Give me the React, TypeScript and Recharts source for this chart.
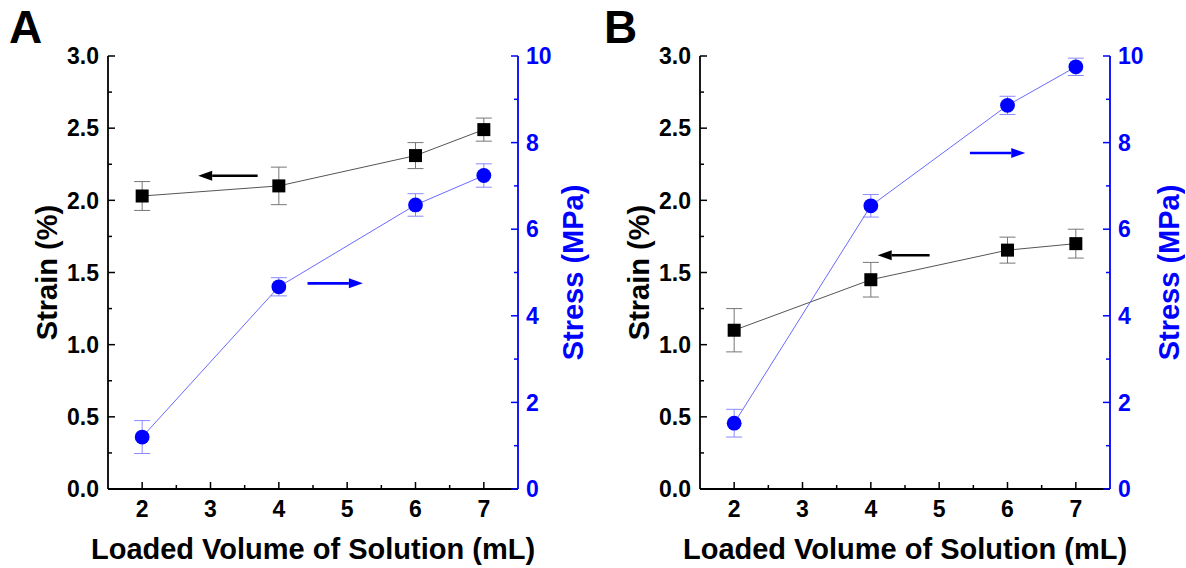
import React from 'react';
import { ComposedChart, Line, XAxis, YAxis, ErrorBar, ReferenceLine, Label } from 'recharts';

const FONT = '"Liberation Sans", Arial, Helvetica, sans-serif';
const BLUE = '#0000ff';

// ---- data ----
const volumes = [2, 4, 6, 7];
const strainA = [2.03, 2.1, 2.31, 2.49];
const strainErrA = [0.1, 0.13, 0.09, 0.08];
const stressA = [1.2, 4.67, 6.56, 7.24];
const stressErrA = [0.38, 0.21, 0.26, 0.27];
const strainB = [1.1, 1.45, 1.655, 1.7];
const strainErrB = [0.15, 0.12, 0.09, 0.1];
const stressB = [1.52, 6.54, 8.86, 9.75];
const stressErrB = [0.32, 0.26, 0.21, 0.2];

// ---- ticks ----
const xTicks = [2, 2.5, 3, 3.5, 4, 4.5, 5, 5.5, 6, 6.5, 7];
const xLabelTicks = [2, 3, 4, 5, 6, 7];
const strainTicks = [0, 0.25, 0.5, 0.75, 1, 1.25, 1.5, 1.75, 2, 2.25, 2.5, 2.75, 3];
const strainLabelTicks = [0, 0.5, 1, 1.5, 2, 2.5, 3];
const stressTicks = [0, 1, 2, 3, 4, 5, 6, 7, 8, 9, 10];
const stressLabelTicks = [0, 2, 4, 6, 8, 10];

// ---- annotation arrows (data units) ----
const arrowsA = [
  { x1: 3.69, x2: 2.82, y: 2.17, axis: 'left', color: '#000' },
  { x1: 4.42, x2: 5.23, y: 4.75, axis: 'right', color: BLUE },
];
const arrowsB = [
  { x1: 4.86, x2: 4.1, y: 1.62, axis: 'left', color: '#000' },
  { x1: 5.45, x2: 6.26, y: 7.76, axis: 'right', color: BLUE },
];

const build = (strain: number[], se: number[], stress: number[], sse: number[]) =>
  volumes.map((v, i) => ({ x: v, strain: strain[i], strainErr: se[i], stress: stress[i], stressErr: sse[i] }));

const near = (arr: number[], v: number) => arr.some((a) => Math.abs(a - v) < 1e-6);

const tickText = { fontFamily: FONT, fontWeight: 700, fontSize: 23 } as const;

const LeftTick = (p: any) => {
  const { x, y, payload } = p;
  const v = payload.value;
  const major = near(strainLabelTicks, v);
  const ax = x + 9;
  return (
    <g>
      <line x1={ax} x2={ax + (major ? 7 : 4)} y1={y} y2={y} stroke="#000" strokeWidth={1.5} />
      {major && (
        <text x={x} y={y} dy="0.36em" textAnchor="end" fill="#000" {...tickText}>
          {v.toFixed(1)}
        </text>
      )}
    </g>
  );
};

const RightTick = (p: any) => {
  const { x, y, payload } = p;
  const v = payload.value;
  const major = near(stressLabelTicks, v);
  const ax = x - 8;
  return (
    <g>
      <line x1={ax} x2={ax - (major ? 7 : 4)} y1={y} y2={y} stroke={BLUE} strokeWidth={1.5} />
      {major && (
        <text x={x} y={y} dy="0.36em" textAnchor="start" fill={BLUE} {...tickText}>
          {String(v)}
        </text>
      )}
    </g>
  );
};

const BottomTick = (p: any) => {
  const { x, y, payload } = p;
  const v = payload.value;
  const major = near(xLabelTicks, v);
  const ay = y - 11;
  return (
    <g>
      <line x1={x} x2={x} y1={ay} y2={ay - (major ? 7 : 4)} stroke="#000" strokeWidth={1.5} />
      {major && (
        <text x={x} y={y} dy="0.72em" textAnchor="middle" fill="#000" {...tickText}>
          {String(v)}
        </text>
      )}
    </g>
  );
};

const TopTick = (p: any) => {
  const { x, y, payload } = p;
  const v = payload.value;
  const major = near(xLabelTicks, v);
  return <line x1={x} x2={x} y1={y} y2={y + (major ? 7 : 4)} stroke="#000" strokeWidth={1.5} />;
};

const arrowShape = (color: string) => (p: any) => {
  const { x1, y1, x2, y2 } = p;
  const dir = x2 > x1 ? 1 : -1;
  const hl = 14;
  const hw = 5;
  const bx = x2 - dir * hl;
  return (
    <g>
      <line x1={x1} y1={y1} x2={bx} y2={y2} stroke={color} strokeWidth={2.6} />
      <polygon points={`${x2},${y2} ${bx},${y2 - hw} ${bx},${y2 + hw}`} fill={color} />
    </g>
  );
};

const Square = (p: any) => {
  const { cx, cy, index } = p;
  if (cx == null || cy == null) return <g key={`s${index}`} />;
  return <rect key={`s${index}`} x={cx - 6.5} y={cy - 6.5} width={13} height={13} fill="#000" />;
};

const titleStyle = { fontFamily: FONT, fontWeight: 700, fontSize: 29 } as const;

type PanelProps = {
  data: any[];
  arrows: any[];
  rightTitleOffset: number;
};

const Panel = ({ data, arrows, rightTitleOffset }: PanelProps) => (
  <ComposedChart width={593} height={568} data={data} margin={{ top: 56, right: 0, left: 0, bottom: 0 }}>
    <XAxis
      xAxisId="b"
      dataKey="x"
      type="number"
      domain={[1.5, 7.5]}
      ticks={xTicks}
      interval={0}
      height={79}
      tickSize={0}
      tickMargin={11}
      tickLine={false}
      axisLine={{ stroke: '#000', strokeWidth: 1.8 }}
      tick={(p: any) => <BottomTick {...p} />}
      allowDataOverflow
    >
      <Label
        content={(lp: any) => {
          const vb = lp.viewBox || { x: 108, y: 489, width: 410 };
          return (
            <text x={vb.x + vb.width / 2} y={vb.y + 70} textAnchor="middle" fill="#000" {...titleStyle}>
              Loaded Volume of Solution (mL)
            </text>
          );
        }}
      />
    </XAxis>
    <XAxis
      xAxisId="t"
      orientation="top"
      dataKey="x"
      type="number"
      domain={[1.5, 7.5]}
      ticks={xTicks}
      interval={0}
      height={0}
      tickSize={0}
      tickMargin={0}
      tickLine={false}
      axisLine={{ stroke: '#000', strokeWidth: 1.8 }}
      tick={(p: any) => <TopTick {...p} />}
      allowDataOverflow
    />
    <YAxis
      yAxisId="left"
      domain={[0, 3]}
      ticks={strainTicks}
      interval={0}
      width={108}
      tickSize={0}
      tickMargin={9}
      tickLine={false}
      axisLine={{ stroke: '#000', strokeWidth: 1.8 }}
      tick={(p: any) => <LeftTick {...p} />}
      allowDataOverflow
    >
      <Label
        content={(lp: any) => {
          const vb = lp.viewBox || { x: 0, y: 56, width: 108, height: 433 };
          const cx = vb.x + vb.width - 61;
          const cy = vb.y + vb.height / 2;
          return (
            <text
              x={cx}
              y={cy}
              transform={`rotate(-90 ${cx} ${cy})`}
              textAnchor="middle"
              dominantBaseline="central"
              fill="#000"
              {...titleStyle}
            >
              Strain (%)
            </text>
          );
        }}
      />
    </YAxis>
    <YAxis
      yAxisId="right"
      orientation="right"
      domain={[0, 10]}
      ticks={stressTicks}
      interval={0}
      width={75}
      tickSize={0}
      tickMargin={8}
      tickLine={false}
      axisLine={{ stroke: BLUE, strokeWidth: 1.8 }}
      tick={(p: any) => <RightTick {...p} />}
      allowDataOverflow
    >
      <Label
        content={(lp: any) => {
          const vb = lp.viewBox || { x: 518, y: 56, width: 75, height: 433 };
          const cx = vb.x + rightTitleOffset;
          const cy = vb.y + vb.height / 2;
          return (
            <text
              x={cx}
              y={cy}
              transform={`rotate(-90 ${cx} ${cy})`}
              textAnchor="middle"
              dominantBaseline="central"
              fill={BLUE}
              {...titleStyle}
            >
              Stress (MPa)
            </text>
          );
        }}
      />
    </YAxis>
    {arrows.map((a, i) => (
      <ReferenceLine
        key={`ar${i}`}
        xAxisId="b"
        yAxisId={a.axis}
        segment={[
          { x: a.x1, y: a.y },
          { x: a.x2, y: a.y },
        ]}
        shape={arrowShape(a.color)}
      />
    ))}
    <Line
      xAxisId="b"
      yAxisId="left"
      dataKey="strain"
      stroke="#555"
      strokeWidth={1}
      dot={(p: any) => <Square {...p} />}
      activeDot={false}
      isAnimationActive={false}
    >
      <ErrorBar dataKey="strainErr" direction="y" width={8} stroke="#777" strokeWidth={1} />
    </Line>
    <Line
      xAxisId="b"
      yAxisId="right"
      dataKey="stress"
      stroke="#6a6aff"
      strokeWidth={1}
      dot={{ r: 7.4, fill: BLUE, stroke: BLUE, strokeWidth: 0 }}
      activeDot={false}
      isAnimationActive={false}
    >
      <ErrorBar dataKey="stressErr" direction="y" width={8} stroke="#8a8aff" strokeWidth={1} />
    </Line>
  </ComposedChart>
);

export default function App() {
  const dataA = build(strainA, strainErrA, stressA, stressErrA);
  const dataB = build(strainB, strainErrB, stressB, stressErrB);
  return (
    <div style={{ position: 'absolute', left: 0, top: 0, width: 1186, height: 568, background: '#fff', overflow: 'hidden' }}>
      <div style={{ position: 'absolute', left: 0, top: 0 }}>
        <Panel data={dataA} arrows={arrowsA} rightTitleOffset={55} />
      </div>
      <div style={{ position: 'absolute', left: 592, top: 0 }}>
        <Panel data={dataB} arrows={arrowsB} rightTitleOffset={59} />
      </div>
      <svg width={1186} height={60} style={{ position: 'absolute', left: 0, top: 0, pointerEvents: 'none' }}>
        <text x={9} y={43} fontFamily={FONT} fontWeight={700} fontSize={46} fill="#000">A</text>
        <text x={604} y={43} fontFamily={FONT} fontWeight={700} fontSize={46} fill="#000">B</text>
      </svg>
    </div>
  );
}
